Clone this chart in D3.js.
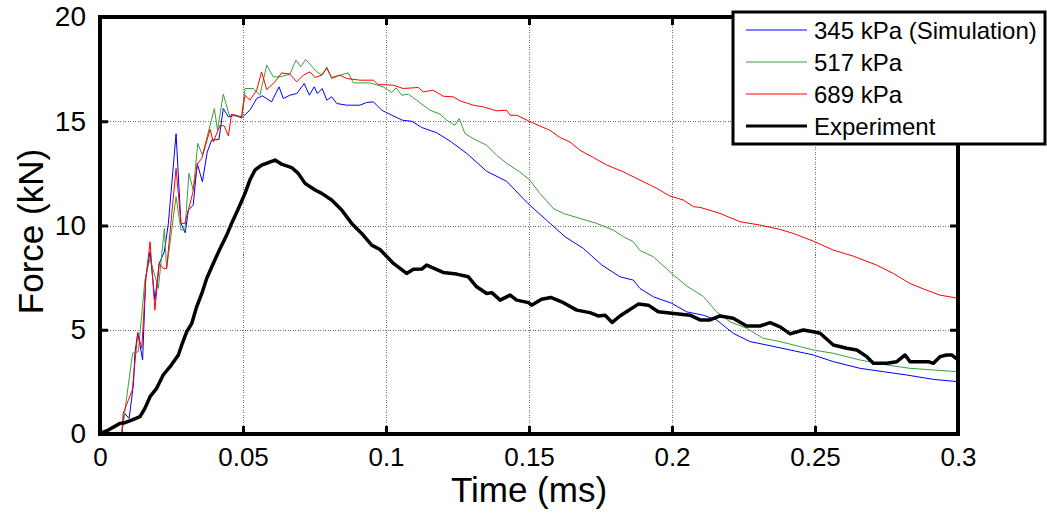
<!DOCTYPE html>
<html>
<head>
<meta charset="utf-8">
<script src="https://cdn.jsdelivr.net/npm/d3@7"></script>
<style>
    html, body { margin: 0; padding: 0; background: #fff; }
    svg { display: block; font-family: "Liberation Sans", Arial, sans-serif; }
    .grid line { stroke: #6f6f6f; stroke-width: 1; stroke-dasharray: 1,1.5; shape-rendering: crispEdges; }
</style>
</head>
<body>
<div id="chart"></div>
<script>
'use strict';

// Tick labels
const xTicks = [0, 0.05, 0.1, 0.15, 0.2, 0.25, 0.3];
const yTicks = [0, 5, 10, 15, 20];

// Series names
const seriesNames = ['345 kPa (Simulation)', '517 kPa', '689 kPa', 'Experiment'];

// [time (ms), force (kN)]
const sim345 = [[0,0],[0.0076,0],[0.0085,1.0],[0.0102,0.75],[0.0117,2.4],[0.0122,3.87],[0.0132,4.86],[0.0149,3.55],
    [0.016,7.54],[0.0175,8.74],[0.0192,6.42],[0.0207,8.18],[0.0225,8.74],[0.0239,10.1],[0.0266,14.4],[0.0283,10.1],
    [0.0298,9.65],[0.0309,10.74],[0.0326,10.98],[0.034,12.98],[0.0358,12.1],[0.0375,13.53],[0.039,14.09],[0.0416,14.13],
    [0.0431,15.61],[0.0449,15.21],[0.0472,15.29],[0.0495,15.16],[0.0524,15.53],[0.0548,16.09],[0.0568,16.22],[0.06,15.93],
    [0.0626,16.65],[0.0641,16.09],[0.0664,16.25],[0.0688,16.33],[0.0714,16.81],[0.0732,16.25],[0.0749,16.65],[0.076,16.33],
    [0.0777,16.57],[0.0793,16.01],[0.081,16.17],[0.0828,15.85],[0.0863,15.77],[0.0909,15.77],[0.0932,15.9],[0.0956,15.93],
    [0.0985,15.53],[0.102,15.29],[0.1057,15.05],[0.109,15.0],[0.1125,14.7],[0.1177,14.45],[0.1224,14.05],[0.1282,13.46],
    [0.1352,12.6],[0.1422,12.12],[0.1496,11.06],[0.1561,10.26],[0.1626,9.46],[0.169,8.9],[0.1755,8.1],[0.1818,7.54],
    [0.1865,7.38],[0.1888,6.98],[0.1935,6.58],[0.1999,6.27],[0.2051,5.86],[0.2109,5.7],[0.2156,5.47],[0.2214,4.83],
    [0.2273,4.43],[0.2331,4.27],[0.2413,4.03],[0.2494,3.79],[0.2564,3.47],[0.2657,3.15],[0.2739,2.99],[0.282,2.83],
    [0.2914,2.62],[0.3,2.51]];

const sim517 = [[0,0],[0.0076,0],[0.0114,3.87],[0.0134,3.95],[0.0157,7.38],[0.0175,8.42],[0.0204,6.98],[0.0225,9.86],
    [0.0233,7.94],[0.0266,11.38],[0.0283,9.78],[0.0297,9.78],[0.0311,12.5],[0.0326,11.7],[0.0342,13.94],[0.0358,13.38],
    [0.04,15.61],[0.0411,14.57],[0.0431,16.3],[0.0452,15.29],[0.0495,15.21],[0.0507,16.57],[0.0536,16.57],[0.0559,16.25],
    [0.0583,17.69],[0.0606,17.13],[0.0629,17.13],[0.0664,17.26],[0.0685,17.93],[0.0702,17.61],[0.0719,17.96],[0.0758,17.37],
    [0.0777,17.21],[0.0793,17.61],[0.081,17.05],[0.0839,17.21],[0.0868,17.32],[0.0886,16.84],[0.0944,16.84],[0.099,16.65],
    [0.102,16.38],[0.1035,16.6],[0.1055,16.25],[0.1078,16.3],[0.1107,16.01],[0.1154,15.53],[0.1189,15.34],[0.1212,15.05],
    [0.1241,14.81],[0.1256,15.13],[0.1276,14.41],[0.1305,14.17],[0.1352,13.85],[0.1387,13.37],[0.1422,12.98],[0.1468,12.57],
    [0.1503,12.18],[0.1538,11.54],[0.1585,10.82],[0.162,10.58],[0.1678,10.34],[0.1737,10.1],[0.1795,9.78],[0.183,9.46],
    [0.1865,9.22],[0.1888,8.8],[0.1935,8.5],[0.1999,7.7],[0.2051,7.1],[0.2109,6.6],[0.2156,5.86],[0.2203,5.38],
    [0.2261,5.07],[0.2319,4.59],[0.2378,4.43],[0.2448,4.19],[0.2494,4.03],[0.2564,3.87],[0.2657,3.55],[0.2751,3.31],
    [0.2832,3.15],[0.2914,3.07],[0.3,2.99]];

const sim689 = [[0,0],[0.0076,0],[0.0081,0.99],[0.0113,2.11],[0.0132,4.86],[0.0146,4.11],[0.016,7.38],[0.0175,9.22],
    [0.0192,5.94],[0.0207,8.18],[0.0221,7.94],[0.0233,7.94],[0.0266,12.74],[0.0283,10.1],[0.0297,10.1],[0.0324,11.54],
    [0.0342,12.98],[0.0356,13.22],[0.0385,14.61],[0.0396,14.01],[0.042,14.81],[0.0435,14.77],[0.0449,14.29],[0.046,15.34],
    [0.0495,15.21],[0.0507,16.25],[0.0524,16.01],[0.0548,16.49],[0.0565,17.37],[0.0583,16.52],[0.0612,16.89],[0.0635,17.32],
    [0.0664,17.26],[0.0688,16.89],[0.0711,17.21],[0.0734,17.37],[0.0752,17.1],[0.0775,17.21],[0.0793,17.53],[0.081,17.1],
    [0.0839,17.21],[0.0863,17.05],[0.0909,16.97],[0.0956,16.97],[0.0973,16.76],[0.1026,16.73],[0.106,16.57],[0.1113,16.62],
    [0.113,16.41],[0.1165,16.49],[0.12,16.2],[0.1235,16.17],[0.1259,15.98],[0.1305,15.77],[0.134,15.69],[0.1387,15.5],
    [0.1422,15.53],[0.1434,15.29],[0.1457,15.29],[0.1498,15.02],[0.1538,14.77],[0.1573,14.57],[0.1608,14.22],[0.1643,14.01],
    [0.1678,13.61],[0.1725,13.26],[0.1772,12.9],[0.183,12.57],[0.1888,12.18],[0.1947,11.78],[0.1993,11.41],[0.204,11.22],
    [0.2075,10.9],[0.2098,10.87],[0.2168,10.58],[0.2238,10.18],[0.2308,10.02],[0.2378,9.81],[0.2424,9.62],[0.2494,9.25],
    [0.2564,8.82],[0.2634,8.53],[0.2716,8.1],[0.2774,7.7],[0.2832,7.22],[0.289,6.9],[0.2937,6.66],[0.3,6.51]];

const experiment = [[0,0.03],[0.0029,0.19],[0.007,0.51],[0.0087,0.54],[0.0111,0.67],[0.014,0.83],[0.0157,1.23],
    [0.0175,1.79],[0.0198,2.19],[0.0221,2.83],[0.0245,3.23],[0.0274,3.79],[0.0288,4.35],[0.0303,4.9],[0.0321,5.31],
    [0.0338,6.1],[0.0356,6.74],[0.0373,7.46],[0.0396,8.18],[0.042,8.9],[0.0443,9.54],[0.046,10.1],[0.0484,10.82],
    [0.0507,11.54],[0.0524,12.18],[0.0542,12.66],[0.0565,12.9],[0.0588,13.01],[0.0612,13.14],[0.0635,12.94],[0.067,12.78],
    [0.0693,12.5],[0.0717,12.02],[0.0752,11.7],[0.0775,11.54],[0.081,11.22],[0.0845,10.74],[0.088,10.1],[0.0915,9.62],
    [0.095,9.06],[0.0979,8.85],[0.1026,8.18],[0.1072,7.7],[0.1096,7.9],[0.1125,7.91],[0.1142,8.1],[0.12,7.75],
    [0.1247,7.67],[0.1288,7.54],[0.1317,7.06],[0.1352,6.74],[0.137,6.78],[0.1399,6.42],[0.1434,6.66],[0.1457,6.42],
    [0.1498,6.3],[0.1509,6.18],[0.1544,6.46],[0.1576,6.55],[0.1614,6.34],[0.1667,5.94],[0.1713,5.82],[0.1742,5.66],
    [0.1766,5.7],[0.1791,5.35],[0.1818,5.66],[0.1841,5.86],[0.1882,6.23],[0.1917,6.18],[0.1952,5.86],[0.1999,5.79],
    [0.2063,5.7],[0.2098,5.47],[0.2133,5.47],[0.2168,5.66],[0.2214,5.55],[0.2261,5.18],[0.2308,5.18],[0.2343,5.34],
    [0.2378,5.14],[0.2413,4.8],[0.2459,4.99],[0.2494,4.9],[0.2518,4.83],[0.2564,4.27],[0.2611,4.11],[0.2646,4.03],
    [0.2681,3.71],[0.2704,3.39],[0.2751,3.39],[0.2786,3.47],[0.2815,3.79],[0.2832,3.47],[0.2867,3.47],[0.2896,3.47],
    [0.2914,3.39],[0.2937,3.71],[0.296,3.79],[0.2978,3.79],[0.3,3.55]];

// Line styles per series
const seriesColors = ['#0000ff', '#3a9f3a', '#ff0000', '#000000'];
const seriesWidths = [1, 1, 1, 3.5];

class ForceChart {

    constructor(_ref) {
        this.parent = _ref;
        this.data = [sim345, sim517, sim689, experiment];
        this.initVis();
    }

    initVis() {
        const vis = this;

        // Config
        vis.w = 1047;
        vis.h = 513;
        vis.margin = {top: 17, right: 89, bottom: 79, left: 100};
        vis.gW = vis.w - vis.margin.left - vis.margin.right;
        vis.gH = vis.h - vis.margin.top - vis.margin.bottom;

        vis.svg = d3.select(`#${vis.parent}`)
            .append('svg')
            .attr('width', vis.w)
            .attr('height', vis.h);

        vis.g = vis.svg.append('g')
            .attr('transform', `translate(${vis.margin.left},${vis.margin.top})`);

        // Scales
        vis.xScale = d3.scaleLinear().domain([0, 0.3]).range([0, vis.gW]);
        vis.yScale = d3.scaleLinear().domain([0, 20]).range([vis.gH, 0]);

        vis.lineMaker = d3.line()
            .x(d => vis.xScale(d[0]))
            .y(d => vis.yScale(d[1]));

        vis.drawGrid();
        vis.drawLines();
        vis.drawAxes();
        vis.drawLegend();
    }

    drawGrid() {
        const vis = this;

        const grid = vis.g.append('g').attr('class', 'grid');
        grid.selectAll('.vg')
            .data(xTicks.slice(1, -1))
            .join('line')
            .attr('x1', d => Math.round(vis.xScale(d)) + 0.5)
            .attr('x2', d => Math.round(vis.xScale(d)) + 0.5)
            .attr('y1', 0)
            .attr('y2', vis.gH);
        grid.selectAll('.hg')
            .data(yTicks.slice(1, -1))
            .join('line')
            .attr('x1', 0)
            .attr('x2', vis.gW)
            .attr('y1', d => Math.round(vis.yScale(d)) + 0.5)
            .attr('y2', d => Math.round(vis.yScale(d)) + 0.5);
    }

    drawLines() {
        const vis = this;

        vis.g.selectAll('.series')
            .data(vis.data)
            .join('path')
            .attr('class', 'series')
            .attr('fill', 'none')
            .attr('stroke', (d, i) => seriesColors[i])
            .attr('stroke-width', (d, i) => seriesWidths[i])
            .attr('stroke-linejoin', 'round')
            .attr('d', vis.lineMaker);
    }

    drawAxes() {
        const vis = this;
        const tickLen = 8;

        // Bottom + left axes (labels), ticks pointing inward
        const xAxis = d3.axisBottom(vis.xScale)
            .tickValues(xTicks)
            .tickFormat(d3.format('~g'))
            .tickSizeInner(-tickLen)
            .tickSizeOuter(0)
            .tickPadding(14);
        const xG = vis.g.append('g')
            .attr('transform', `translate(0,${vis.gH})`)
            .call(xAxis);

        const yAxis = d3.axisLeft(vis.yScale)
            .tickValues(yTicks)
            .tickSizeInner(-tickLen)
            .tickSizeOuter(0)
            .tickPadding(14);
        const yG = vis.g.append('g').call(yAxis);

        // Top + right ticks (no labels)
        const xTop = vis.g.append('g')
            .call(d3.axisTop(vis.xScale).tickValues(xTicks).tickFormat('').tickSizeInner(-tickLen).tickSizeOuter(0));
        const yRight = vis.g.append('g')
            .attr('transform', `translate(${vis.gW},0)`)
            .call(d3.axisRight(vis.yScale).tickValues(yTicks).tickFormat('').tickSizeInner(-tickLen).tickSizeOuter(0));

        [xG, yG, xTop, yRight].forEach(a => {
            a.select('.domain').remove();
            a.selectAll('.tick line').attr('stroke', '#000').attr('stroke-width', 3);
        });
        xG.selectAll('.tick text')
            .attr('font-size', 26)
            .attr('fill', '#000')
            .attr('font-family', '"Liberation Sans", Arial, sans-serif');
        yG.selectAll('.tick text')
            .attr('font-size', 28)
            .attr('fill', '#000')
            .attr('font-family', '"Liberation Sans", Arial, sans-serif');

        // Frame
        vis.g.append('rect')
            .attr('x', 0)
            .attr('y', 0)
            .attr('width', vis.gW)
            .attr('height', vis.gH)
            .attr('fill', 'none')
            .attr('stroke', '#000')
            .attr('stroke-width', 4);

        // Axis titles
        vis.svg.append('text')
            .attr('x', vis.margin.left + vis.gW / 2)
            .attr('y', 502)
            .attr('text-anchor', 'middle')
            .attr('font-size', 35)
            .text('Time (ms)');

        vis.svg.append('text')
            .attr('transform', `translate(43,${vis.margin.top + vis.gH / 2 + 6}) rotate(-90)`)
            .attr('text-anchor', 'middle')
            .attr('font-size', 35)
            .text('Force (kN)');
    }

    drawLegend() {
        const vis = this;

        vis.legendG = vis.svg.append('g')
            .attr('class', 'legend')
            .attr('transform', 'translate(733,12)');

        vis.legendG.append('rect')
            .attr('width', 312)
            .attr('height', 132)
            .attr('fill', '#fff')
            .attr('stroke', '#000')
            .attr('stroke-width', 3);

        const rows = vis.legendG.selectAll('.row')
            .data(seriesNames)
            .join('g')
            .attr('class', 'row')
            .attr('transform', (d, i) => `translate(0,${18 + i * 32})`);

        rows.append('line')
            .attr('x1', 13)
            .attr('x2', 74)
            .attr('stroke', (d, i) => seriesColors[i])
            .attr('stroke-width', (d, i) => seriesWidths[i] > 1 ? 3 : 1);

        rows.append('text')
            .attr('x', 81)
            .attr('y', 8.5)
            .attr('font-size', 24)
            .text(d => d);
    }
}

new ForceChart('chart');
</script>
</body>
</html>
